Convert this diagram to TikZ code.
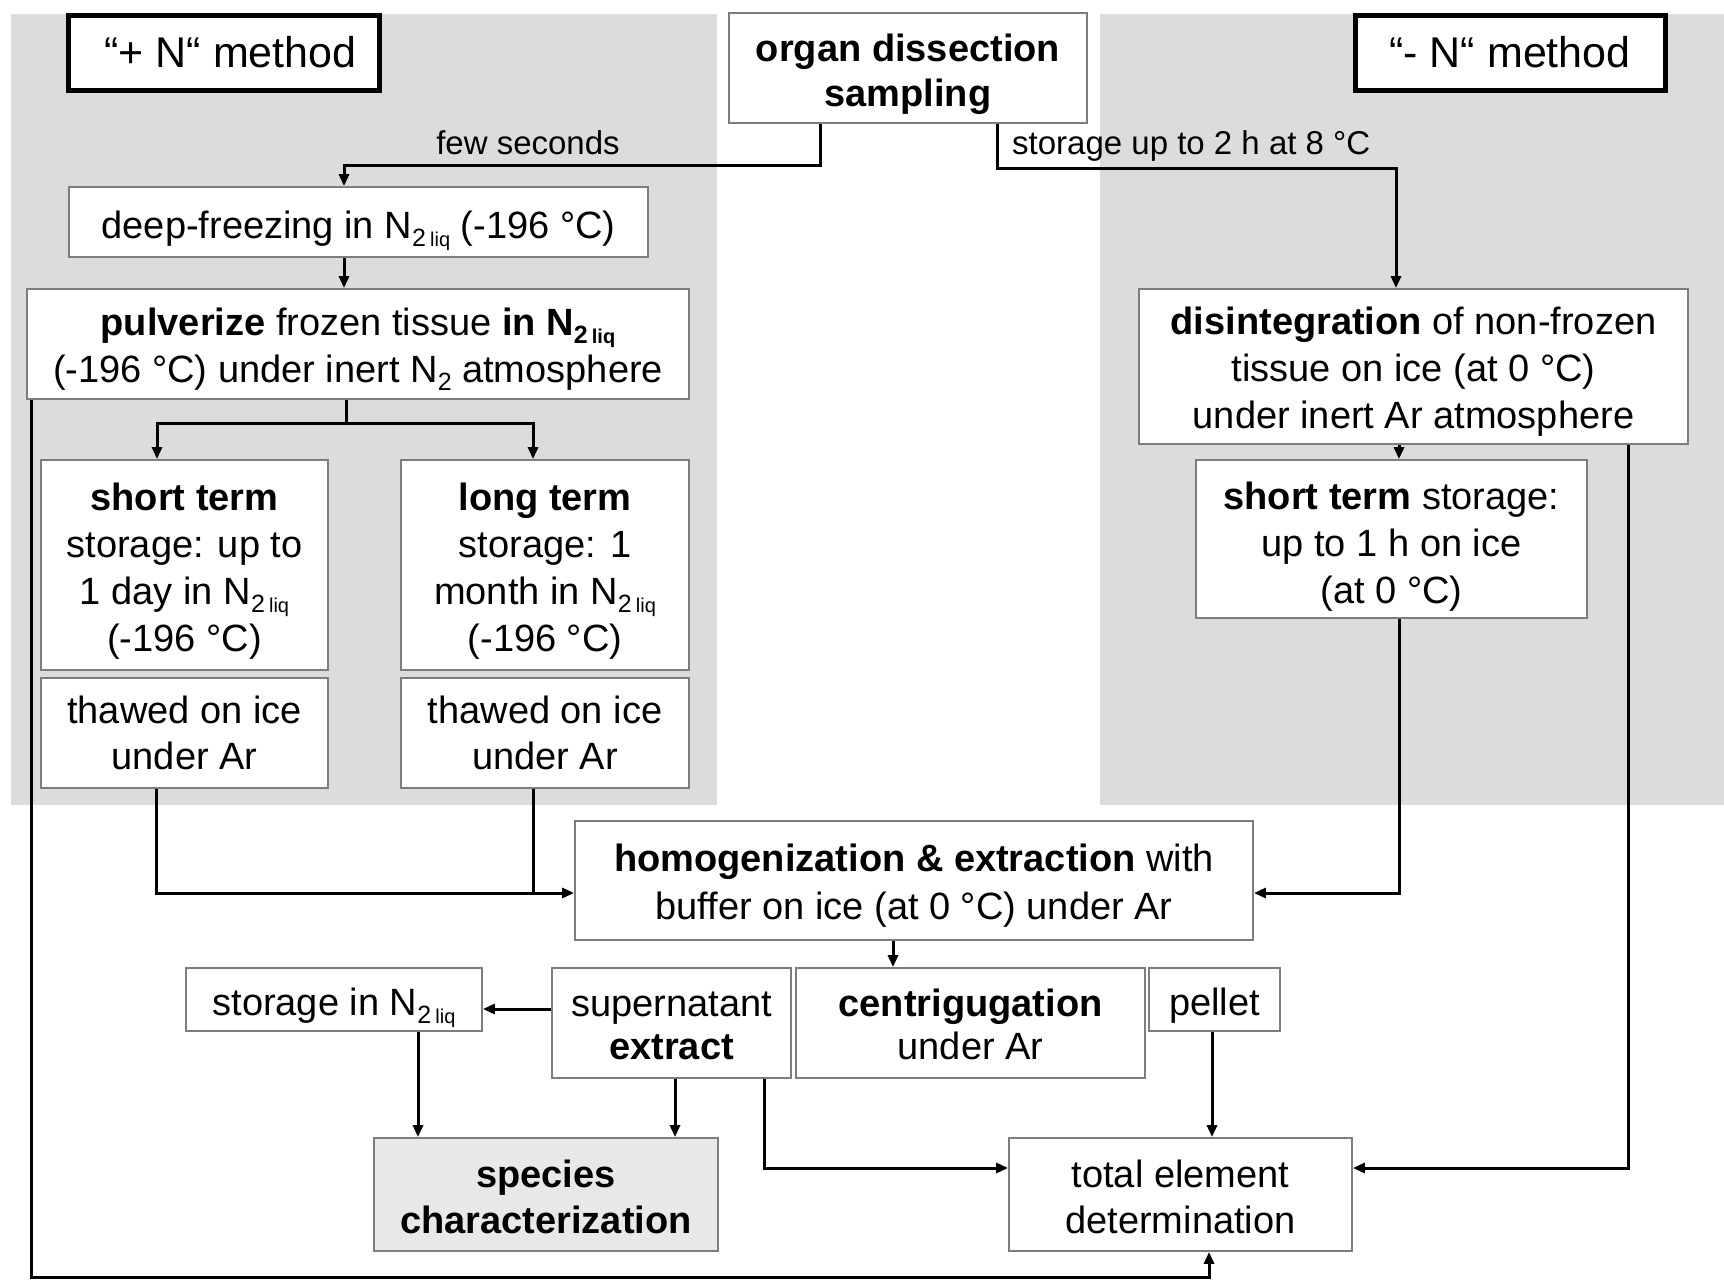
\documentclass[tikz,border=0pt]{standalone}
\usepackage{fontspec}
\setmainfont{Liberation Sans}
\usetikzlibrary{arrows.meta}
\definecolor{bg}{RGB}{220,220,220}
\definecolor{bord}{RGB}{125,125,125}
\definecolor{specfill}{RGB}{232,232,232}
\newcommand\Nliq{N\raisebox{-0.22em}[0pt][0pt]{\fontsize{25}{25}\selectfont 2\,\fontsize{20}{20}\selectfont liq}}
\newcommand\Ntwo{N\raisebox{-0.22em}[0pt][0pt]{\fontsize{25}{25}\selectfont 2}}
\newcommand\dn[1]{\rule{0pt}{#1pt}}
\begin{document}
\begin{tikzpicture}[x=1pt,y=-1pt,
 box/.style={draw=bord,line width=1.8pt,fill=white,inner sep=0pt,align=center,font=\fontsize{38}{47}\selectfont},
 mbox/.style={draw=black,line width=5pt,fill=white,inner sep=0pt,align=center,font=\fontsize{43}{50}\selectfont},
 conn/.style={line width=3pt,black,line join=miter},
 arr/.style={conn,-{Triangle[length=12pt,width=10pt]}},
 lbl/.style={font=\fontsize{33}{38}\selectfont,inner sep=0pt}]
\useasboundingbox (0,0) rectangle (1724,1280);
\fill[bg] (11,14) rectangle (717,805);
\fill[bg] (1100,14) rectangle (1724,805);

\node[mbox,minimum width=311pt,minimum height=75pt] (plusN) at (223.5,52.5) {\hspace*{14pt}“+ N“ method};
\node[mbox,minimum width=310pt,minimum height=75pt] (minusN) at (1510,52.5) {“- N“ method};
\node[box,minimum width=358pt,minimum height=110pt,font=\bfseries\fontsize{38}{45}\selectfont] (organ) at (908,68) {\dn{40}organ dissection\\sampling};
\node[box,minimum width=579pt,minimum height=70pt] (deep) at (358.5,222) {\dn{41}deep-freezing in \Nliq{} (-196 °C)};
\node[box,minimum width=662pt,minimum height=110pt] (pulv) at (358,344) {\dn{38}\textbf{pulverize} frozen tissue \textbf{in \Nliq}\\(-196 °C) under inert \Ntwo{} atmosphere};
\node[box,minimum width=287pt,minimum height=210pt] (st1) at (184.5,565) {\dn{40}\textbf{short term}\\storage: up to\\1 day in \Nliq\\(-196 °C)};
\node[box,minimum width=288pt,minimum height=210pt] (lt) at (545,565) {\dn{40}\textbf{long term}\\storage: 1\\month in \Nliq\\(-196 °C)};
\node[box,minimum width=287pt,minimum height=110pt,font=\fontsize{38}{46}\selectfont] (th1) at (184.5,733) {thawed on ice\\under Ar};
\node[box,minimum width=288pt,minimum height=110pt,font=\fontsize{38}{46}\selectfont] (th2) at (545,733) {thawed on ice\\under Ar};
\node[box,minimum width=549pt,minimum height=155pt] (dis) at (1413.5,366.5) {\dn{38}\textbf{disintegration} of non-frozen\\tissue on ice (at 0 °C)\\under inert Ar atmosphere};
\node[box,minimum width=391pt,minimum height=158pt] (st2) at (1391.5,539) {\dn{42}\textbf{short term} storage:\\up to 1 h on ice\\(at 0 °C)};
\node[box,minimum width=678pt,minimum height=119pt,font=\fontsize{38}{48}\selectfont] (hom) at (914,880.5) {\dn{37}\textbf{homogenization \& extraction} with\\buffer on ice (at 0 °C) under Ar};
\node[box,minimum width=296pt,minimum height=63pt] (stor) at (334,999.5) {\dn{39}storage in \Nliq};
\node[box,minimum width=239pt,minimum height=110pt,font=\fontsize{38}{43}\selectfont] (sup) at (671.5,1023) {\dn{31}supernatant\\\textbf{extract}};
\node[box,minimum width=349pt,minimum height=110pt,font=\fontsize{38}{43}\selectfont] (cen) at (970.5,1023) {\dn{31}\textbf{centrigugation}\\under Ar};
\node[box,minimum width=131pt,minimum height=63pt] (pel) at (1214.5,999.5) {\dn{39}pellet};
\node[box,fill=specfill,minimum width=344pt,minimum height=113pt,font=\fontsize{38}{46}\selectfont] (spec) at (546,1194.5) {\dn{32}\textbf{species}\\\textbf{characterization}};
\node[box,minimum width=343pt,minimum height=113pt,font=\fontsize{38}{46}\selectfont] (tot) at (1180.5,1194.5) {\dn{32}total element\\determination};

\coordinate (a1) at (820,165); \coordinate (a2) at (344,165);
\draw[arr] (organ.south -| a1) -- (a1) -- (a2) -- (deep.north -| a2);
\node[lbl] (fs) at (528,143) {few seconds};
\coordinate (b1) at (997,168); \coordinate (b2) at (1396,168);
\draw[arr] (organ.south -| b1) -- (b1) -- (b2) -- (dis.north -| b2);
\node[lbl,anchor=west] (stl) at (1012,146) {storage up to 2 h at 8 °C};
\draw[arr] (deep.south -| a2) -- (pulv.north -| a2);

\coordinate (d0) at (346,423); \coordinate (d1) at (157,423); \coordinate (d2) at (533,423);
\draw[conn] (pulv.south -| d0) -- (d0);
\draw[arr] (d2) -- (d1) -- (st1.north -| d1);
\draw[arr] (d1) -- (d2) -- (lt.north -| d2);

\coordinate (e1) at (156,893); \coordinate (e2) at (533,893);
\draw[arr] (th1.south -| e1) -- (e1) -- (hom.west |- e1);
\draw[conn] (th2.south -| e2) -- (e2);

\coordinate (f1) at (31,1277); \coordinate (f2) at (1209,1277);
\draw[arr] (pulv.south -| f1) -- (f1) -- (f2) -- (tot.south -| f2);

\coordinate (g1) at (1399,450);
\draw[arr] (dis.south -| g1) -- (st2.north -| g1);
\coordinate (h1) at (1399,893);
\draw[arr] (st2.south -| h1) -- (h1) -- (hom.east |- h1);
\coordinate (i1) at (1628,1168);
\draw[arr] (dis.south -| i1) -- (i1) -- (tot.east |- i1);

\coordinate (j1) at (893,950);
\draw[arr] (hom.south -| j1) -- (cen.north -| j1);
\coordinate (k1) at (500,1009);
\draw[arr] (sup.west |- k1) -- (stor.east |- k1);
\coordinate (l1) at (418,1100); \coordinate (l2) at (675,1100);
\draw[arr] (stor.south -| l1) -- (spec.north -| l1);
\draw[arr] (sup.south -| l2) -- (spec.north -| l2);
\coordinate (m1) at (764,1168);
\draw[arr] (sup.south -| m1) -- (m1) -- (tot.west |- m1);
\coordinate (n1) at (1212,1100);
\draw[arr] (pel.south -| n1) -- (tot.north -| n1);
\end{tikzpicture}
\end{document}
